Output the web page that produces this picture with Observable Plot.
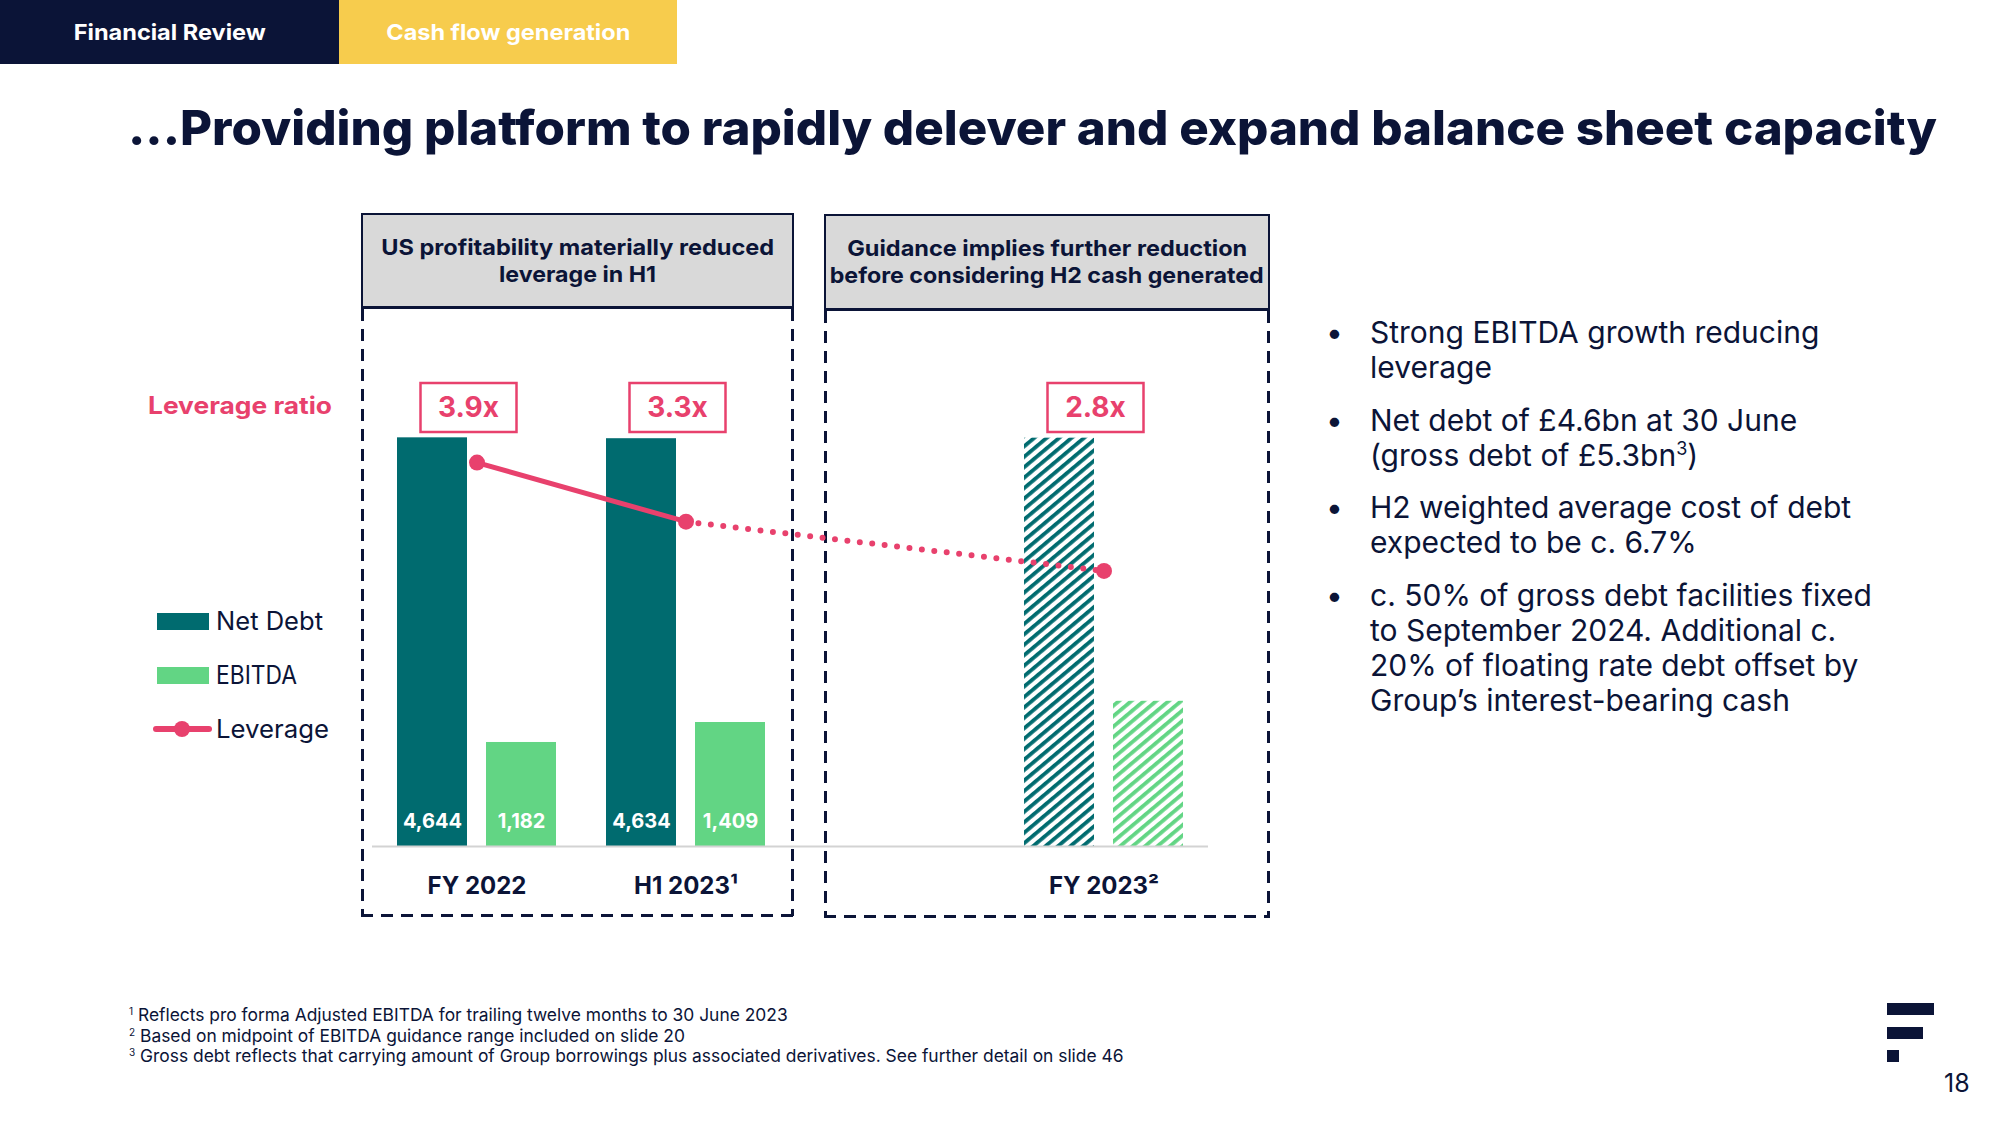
<!DOCTYPE html>
<html>
<head>
<meta charset="utf-8">
<script src="https://cdn.jsdelivr.net/npm/d3@7"></script>
<script src="https://cdn.jsdelivr.net/npm/@observablehq/plot@0.6"></script>
<style>
  html, body { margin: 0; padding: 0; background: #ffffff; }
  #slide { position: relative; width: 2000px; height: 1125px; overflow: hidden; background: #ffffff;
           font-family: Inter, "Noto Sans", sans-serif; color: #0B1437; }
  .abs { position: absolute; }
  .nowrap { white-space: nowrap; display: inline-block; }
  .tab { position: absolute; top: 0; height: 64px; display: flex; align-items: center; justify-content: center;
         color: #ffffff; font-weight: 700; font-size: 22px; }
  .panelHead { position: absolute; background: #D9D9D9; border: 2px solid #0B1437; border-bottom-width: 3px;
               box-sizing: border-box; display: flex; flex-direction: column; align-items: center; justify-content: center;
               font-weight: 700; font-size: 22px; line-height: 27px; color: #0B1437; }
  .dashV { position: absolute; width: 3px;
           background: repeating-linear-gradient(to bottom, #0B1437 0 12px, transparent 12px 20px); }
  .dashH { position: absolute; height: 3px;
           background: repeating-linear-gradient(to right, #0B1437 0 12px, transparent 12px 20px); }
  .bullet { position: absolute; font-size: 30px; line-height: 35px; height: 35px; color: #0B1437; }
  .sup { font-size: 18px; position: relative; top: -11px; }
  .foot { position: absolute; left: 129px; font-size: 17.4px; line-height: 20.5px; height: 20.5px; color: #0B1437; white-space: nowrap; }
  .fsup { font-size: 10px; position: relative; top: -6px; }
  #chart { position: absolute; left: 340px; top: 360px; }
</style>
</head>
<body>
<div id="slide"></div>
<script>
// ---------------- data ----------------
const categories   = ["FY 2022", "H1 2023", "FY 2023"];
const footnoteRefs = ["", "\u00B9", "\u00B2"];
const netDebt      = [4644, 4634, 4640];   // FY 2023 bar unlabeled
const ebitda       = [1182, 1409, 1650];   // FY 2023 bar unlabeled
const leverage     = [3.9, 3.3, 2.8];
const isForecast   = [false, false, true];
const seriesNames  = ["Net Debt", "EBITDA", "Leverage"];
const leverageTitle = "Leverage ratio";
const panelTitles  = [
  ["US profitability materially reduced", "leverage in H1"],
  ["Guidance implies further reduction", "before considering H2 cash generated"]
];
const bullets = [
  ["Strong EBITDA growth reducing", "leverage"],
  ["Net debt of \u00A34.6bn at 30 June", "(gross debt of \u00A35.3bn\u00B3)"],
  ["H2 weighted average cost of debt", "expected to be c. 6.7%"],
  ["c. 50% of gross debt facilities fixed", "to September 2024. Additional c.", "20% of floating rate debt offset by", "Group\u2019s interest-bearing cash"]
];
const footnotes = [
  ["1", "Reflects pro forma Adjusted EBITDA for trailing twelve months to 30 June 2023"],
  ["2", "Based on midpoint of EBITDA guidance range included on slide 20"],
  ["3", "Gross debt reflects that carrying amount of Group borrowings plus associated derivatives. See further detail on slide 46"]
];
const tabs = ["Financial Review", "Cash flow generation"];
const title = "...Providing platform to rapidly delever and expand balance sheet capacity";
const pageNumber = "18";

// ---------------- styles ----------------
const NAVY = "#0B1437", TEAL = "#006B6F", GREEN = "#62D584", PINK = "#E8416D", YELLOW = "#F7CC4D";

const slide = document.getElementById("slide");
function el(tag, cls, style, html) {
  const e = document.createElement(tag);
  if (cls) e.className = cls;
  Object.assign(e.style, style || {});
  if (html !== undefined) e.innerHTML = html;
  slide.appendChild(e);
  return e;
}
function fit(node, target, origin) {
  const w = node.getBoundingClientRect().width;
  if (w > 0) { node.style.transform = `scaleX(${target / w})`; node.style.transformOrigin = origin || "left center"; }
}

// tabs
const t1 = el("div", "tab", {left: "0px", width: "339px", background: NAVY});
const t1s = document.createElement("span"); t1s.className = "nowrap"; t1s.textContent = tabs[0]; t1.appendChild(t1s);
const t2 = el("div", "tab", {left: "339px", width: "338px", background: YELLOW});
const t2s = document.createElement("span"); t2s.className = "nowrap"; t2s.textContent = tabs[1]; t2.appendChild(t2s);

// title
const tt = el("div", "abs nowrap", {left: "128px", top: "98px", fontSize: "48px", lineHeight: "60px", fontWeight: 800, color: NAVY}, title);

// panel headers + dashed frames
const panels = [
  {left: 361, top: 213, width: 433, height: 96, bottom: 916, fits: [393, 157]},
  {left: 824, top: 214, width: 446, height: 97, bottom: 917, fits: [400, 434]}
];
const panelSpans = [];
panels.forEach((p, k) => {
  const h = el("div", "panelHead", {left: p.left + "px", top: p.top + "px", width: p.width + "px", height: p.height + "px"});
  panelTitles[k].forEach((line, j) => {
    const s = document.createElement("span"); s.className = "nowrap"; s.textContent = line; h.appendChild(s);
    panelSpans.push([s, p.fits[j]]);
  });
  el("div", "dashV", {left: p.left + "px", top: (p.top + p.height) + "px", height: (p.bottom - p.top - p.height) + "px"});
  el("div", "dashV", {left: (p.left + p.width - 3) + "px", top: (p.top + p.height) + "px", height: (p.bottom - p.top - p.height) + "px"});
  el("div", "dashH", {left: p.left + "px", top: (p.bottom - 2) + "px", width: p.width + "px"});
});

// left legend
const lr = el("div", "abs nowrap", {left: "148px", top: "391px", fontSize: "24px", lineHeight: "30px", fontWeight: 700, color: PINK}, leverageTitle);
const legendY = [621, 675, 729];
const legendColors = [TEAL, GREEN, PINK];
const legendSpans = [];
seriesNames.forEach((name, i) => {
  if (i < 2) {
    el("div", "abs", {left: "157px", top: (legendY[i] - 8) + "px", width: "52px", height: "17px", background: legendColors[i]});
  } else {
    el("div", "abs", {left: "153px", top: (legendY[i] - 3) + "px", width: "59px", height: "6px", borderRadius: "3px", background: PINK});
    el("div", "abs", {left: "174px", top: (legendY[i] - 8) + "px", width: "16px", height: "16px", borderRadius: "8px", background: PINK});
  }
  legendSpans.push(el("div", "abs nowrap", {left: "216px", top: (legendY[i] - 16) + "px", fontSize: "25px", lineHeight: "32px", color: NAVY}, name));
});

// bullets
let by = 315;
bullets.forEach(lines => {
  el("div", "bullet", {left: "1326px", top: by + "px"}, "\u2022");
  lines.forEach((line, j) => {
    el("div", "bullet nowrap", {left: "1370px", top: (by + j * 35) + "px"}, line.replace("\u00B3", "<span class='sup'>3</span>"));
  });
  by += lines.length * 35 + 17.5;
});

// footnotes
footnotes.forEach(([n, txt], i) =>
  el("div", "foot", {top: (1005 + i * 20.5) + "px"}, `<span class="fsup">${n}</span> ${txt}`));

// logo + page number
[[1887, 1003, 47], [1887, 1027, 36], [1887, 1050, 12]].forEach(([x, y, w]) =>
  el("div", "abs", {left: x + "px", top: y + "px", width: w + "px", height: "12px", background: NAVY}));
el("div", "abs", {left: "1944px", top: "1068px", fontSize: "25px", lineHeight: "30px", color: NAVY}, pageNumber);

// ---------------- chart ----------------
const rows = categories.map((cat, i) => ({
  cat, nd: netDebt[i], eb: ebitda[i], lev: leverage[i], est: isForecast[i], label: cat + footnoteRefs[i]
}));
const actual = rows.filter(d => !d.est);
const forecast = rows.filter(d => d.est);
const xSlots = [...actual.map(d => d.cat), "", ...forecast.map(d => d.cat)];
const lastActual = actual[actual.length - 1];
const dottedRows = [lastActual, ...forecast];

const W = 950, H = 560, mL = 32, mR = 82, mT = 46, mB = 74;
const yMax = 5000;
const levScale = d3.scaleLinear([0, 4.47], [0, yMax]); // secondary axis for leverage ratio
const slotW = (W - mL - mR) / xSlots.length;
const barW = 70, outerGap = 25, innerInset = slotW - outerGap - barW;
const labelDx = slotW / 2 - outerGap - barW / 2;
const fmt = d3.format(",");

function hatchDefs() {
  const defs = d3.create("svg:defs");
  [["hatch-nd", TEAL], ["hatch-eb", GREEN]].forEach(([id, c]) => {
    const p = defs.append("pattern").attr("id", id).attr("patternUnits", "userSpaceOnUse")
      .attr("width", 8).attr("height", 8).attr("patternTransform", "rotate(-40)");
    p.append("rect").attr("width", 8).attr("height", 8).attr("fill", "#ffffff");
    p.append("rect").attr("width", 8).attr("height", 3.8).attr("fill", c);
  });
  return defs.node();
}

function leverageBoxes(index, scales, values, dims) {
  const g = d3.create("svg:g");
  const bw = typeof scales.x.bandwidth === "function" ? scales.x.bandwidth() : (scales.scales?.x?.bandwidth ?? 0);
  const cy = dims.marginTop + 1;
  rows.forEach(d => {
    const cx = scales.x(d.cat) + bw / 2 - 8;
    g.append("rect").attr("x", cx - 48).attr("y", cy - 24).attr("width", 96).attr("height", 49)
      .attr("fill", "#ffffff").attr("stroke", PINK).attr("stroke-width", 2.5);
    g.append("text").attr("x", cx).attr("y", cy).attr("dy", "0.36em").attr("text-anchor", "middle")
      .attr("fill", PINK).attr("font-size", 28).attr("font-weight", 700).text(d3.format(".1f")(d.lev) + "x");
  });
  return g.node();
}

const chart = Plot.plot({
  width: W, height: H,
  marginLeft: mL, marginRight: mR, marginTop: mT, marginBottom: mB,
  x: {type: "band", domain: xSlots, padding: 0, axis: null},
  y: {domain: [0, yMax], axis: null},
  style: {background: "transparent", overflow: "visible", fontFamily: "Inter, 'Noto Sans', sans-serif"},
  marks: [
    hatchDefs,
    Plot.barY(actual, {x: "cat", y: "nd", fill: TEAL, insetLeft: outerGap, insetRight: innerInset}),
    Plot.barY(actual, {x: "cat", y: "eb", fill: GREEN, insetLeft: innerInset, insetRight: outerGap}),
    Plot.barY(forecast, {x: "cat", y: "nd", fill: "url(#hatch-nd)", insetLeft: outerGap, insetRight: innerInset}),
    Plot.barY(forecast, {x: "cat", y: "eb", fill: "url(#hatch-eb)", insetLeft: innerInset, insetRight: outerGap}),
    Plot.ruleY([0], {stroke: "#D3D3D3", strokeWidth: 2}),
    Plot.text(actual, {x: "cat", y: 0, text: d => fmt(d.nd), dx: -labelDx, dy: -25, fill: "#ffffff", fontSize: 20, fontWeight: 700}),
    Plot.text(actual, {x: "cat", y: 0, text: d => fmt(d.eb), dx: labelDx, dy: -25, fill: "#ffffff", fontSize: 20, fontWeight: 700}),
    Plot.line(actual, {x: "cat", y: d => levScale(d.lev), stroke: PINK, strokeWidth: 5}),
    Plot.line(dottedRows, {x: "cat", y: d => levScale(d.lev), stroke: PINK, strokeWidth: 6, strokeDasharray: "0 12.5", strokeLinecap: "round"}),
    Plot.dot(rows, {x: "cat", y: d => levScale(d.lev), r: 8, fill: PINK}),
    leverageBoxes,
    Plot.text(rows, {x: "cat", text: "label", frameAnchor: "bottom", dy: 47, fontSize: 24, fontWeight: 700, fill: NAVY})
  ]
});
chart.id = "chart";
slide.appendChild(chart);

// fit text widths to the reference layout
fit(t1s, 192, "center center");
fit(t2s, 244, "center center");
fit(tt, 1809);
panelSpans.forEach(([s, w]) => fit(s, w, "center center"));
fit(lr, 184);
fit(legendSpans[0], 107); fit(legendSpans[1], 81); fit(legendSpans[2], 113);
</script>
</body>
</html>
